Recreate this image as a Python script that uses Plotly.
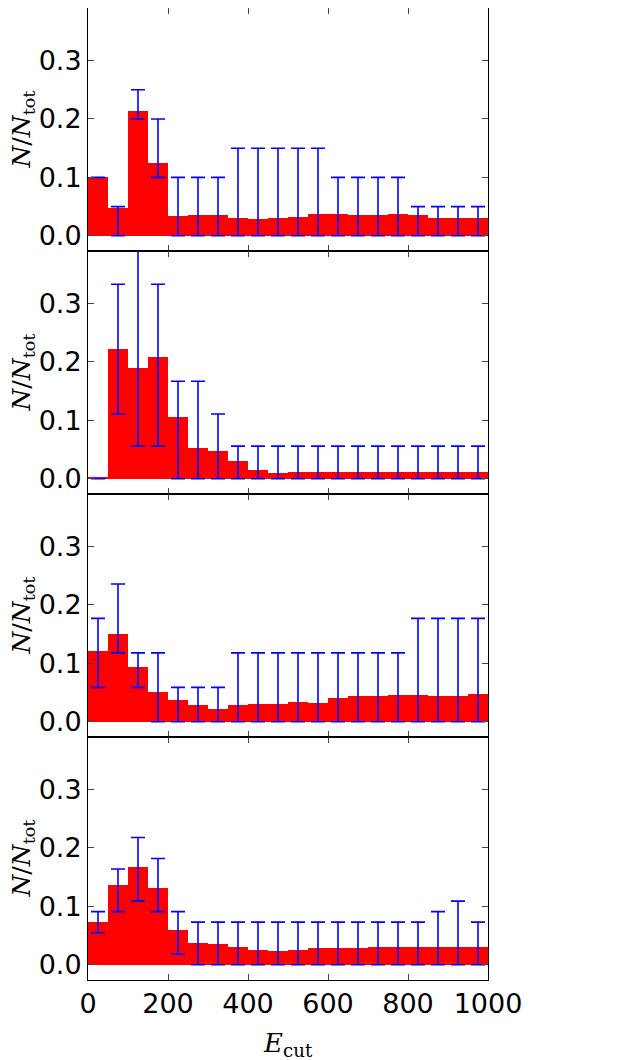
import plotly.graph_objs as go
from plotly.subplots import make_subplots

# bin centres (bin width 50)
centers = [25, 75, 125, 175, 225, 275, 325, 375, 425, 475,
           525, 575, 625, 675, 725, 775, 825, 875, 925, 975]

h1 = [0.100, 0.047, 0.213, 0.125, 0.034, 0.036, 0.036, 0.030, 0.029, 0.030,
      0.032, 0.038, 0.037, 0.036, 0.036, 0.038, 0.036, 0.030, 0.030, 0.030]
lo1 = [0.100, 0, 0.200, 0.100, 0, 0, 0, 0, 0, 0, 0, 0, 0, 0, 0, 0, 0, 0, 0, 0]
hi1 = [0.100, 0.050, 0.250, 0.200, 0.100, 0.100, 0.100, 0.150, 0.150, 0.150,
       0.150, 0.150, 0.100, 0.100, 0.100, 0.100, 0.050, 0.050, 0.050, 0.050]

h2 = [0.003, 0.223, 0.190, 0.209, 0.105, 0.052, 0.047, 0.031, 0.015, 0.010,
      0.011, 0.012, 0.012, 0.012, 0.012, 0.012, 0.012, 0.012, 0.012, 0.012]
lo2 = [0, 0.111, 0.056, 0.056, 0, 0, 0, 0, 0, 0, 0, 0, 0, 0, 0, 0, 0, 0, 0, 0]
hi2 = [0, 0.333, 0.444, 0.333, 0.167, 0.167, 0.111, 0.056, 0.056, 0.056,
       0.056, 0.056, 0.056, 0.056, 0.056, 0.056, 0.056, 0.056, 0.056, 0.056]

h3 = [0.121, 0.151, 0.093, 0.051, 0.038, 0.028, 0.022, 0.028, 0.030, 0.030,
      0.034, 0.032, 0.040, 0.045, 0.045, 0.046, 0.046, 0.045, 0.045, 0.048]
lo3 = [0.059, 0.118, 0.059, 0, 0, 0, 0, 0, 0, 0, 0, 0, 0, 0, 0, 0, 0, 0, 0, 0]
hi3 = [0.177, 0.236, 0.118, 0.118, 0.059, 0.059, 0.059, 0.118, 0.118, 0.118,
       0.118, 0.118, 0.118, 0.118, 0.118, 0.118, 0.177, 0.177, 0.177, 0.177]

h4 = [0.073, 0.137, 0.168, 0.132, 0.059, 0.038, 0.036, 0.030, 0.026, 0.024,
      0.026, 0.028, 0.029, 0.029, 0.031, 0.031, 0.031, 0.030, 0.030, 0.030]
lo4 = [0.055, 0.091, 0.109, 0.091, 0.018, 0, 0, 0, 0, 0, 0, 0, 0, 0, 0, 0, 0, 0, 0, 0]
hi4 = [0.091, 0.164, 0.218, 0.182, 0.091, 0.073, 0.073, 0.073, 0.073, 0.073,
       0.073, 0.073, 0.073, 0.073, 0.073, 0.073, 0.073, 0.091, 0.109, 0.073]

panels = [(h1, lo1, hi1), (h2, lo2, hi2), (h3, lo3, hi3), (h4, lo4, hi4)]

fig = make_subplots(rows=4, cols=1, shared_xaxes=True, vertical_spacing=0)

for i, (h, lo, hi) in enumerate(panels):
    r = i + 1
    fig.add_trace(go.Bar(x=centers, y=h, width=50, marker=dict(color="red", line_width=0),
                         showlegend=False), row=r, col=1)
    mid = [(a + b) / 2 for a, b in zip(lo, hi)]
    half = [(b - a) / 2 for a, b in zip(lo, hi)]
    fig.add_trace(go.Scatter(x=centers, y=mid, mode="markers", marker=dict(opacity=0),
                             error_y=dict(type="data", array=half, color="blue",
                                          thickness=1.6, width=7),
                             showlegend=False), row=r, col=1)
    fig.update_yaxes(range=[-0.026, 0.39], tickvals=[0, 0.1, 0.2, 0.3],
                     ticktext=["0.0", "0.1", "0.2", "0.3"],
                     ticks="inside", ticklen=6, mirror="allticks", showline=True,
                     linecolor="black", linewidth=1, showgrid=False, zeroline=False,
                     automargin=False, row=r, col=1)
    fig.update_xaxes(range=[0, 1000], tickvals=[0, 200, 400, 600, 800, 1000],
                     ticks="inside", ticklen=6, mirror="allticks", showline=True,
                     linecolor="black", linewidth=1, showgrid=False, zeroline=False,
                     automargin=False, row=r, col=1)
    yname = "y" if r == 1 else "y%d" % r
    fig.add_annotation(text="<i>N</i>/<i>N</i><sub>tot</sub>", textangle=-90,
                       xref="paper", x=-0.165, xanchor="center",
                       yref=yname + " domain", y=0.5, yanchor="middle",
                       showarrow=False, font=dict(family="DejaVu Serif", size=25))

fig.add_annotation(text="<i>E</i><sub>cut</sub>", xref="paper", x=0.5, xanchor="center",
                   yref="paper", y=-0.047, yanchor="top", showarrow=False,
                   font=dict(family="DejaVu Serif", size=26))

fig.update_layout(
    width=617, height=1060,
    margin=dict(l=80, r=137, t=0, b=88),
    plot_bgcolor="white", paper_bgcolor="white",
    bargap=0,
    font=dict(family="DejaVu Sans", size=27, color="black"),
)

fig.write_html("out.html")
